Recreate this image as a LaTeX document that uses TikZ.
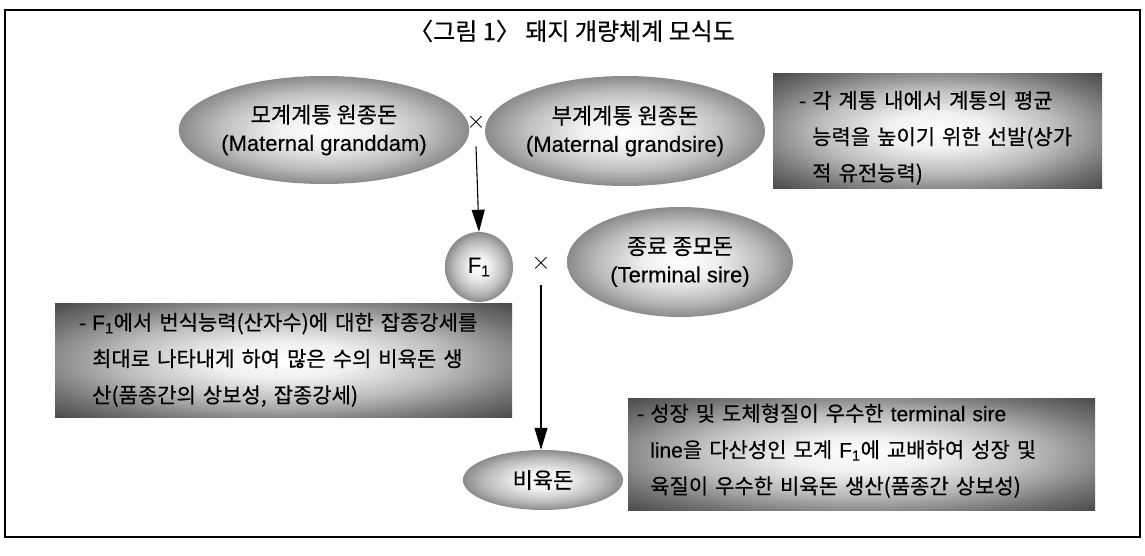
\documentclass[tikz,border=0pt]{standalone}
\usepackage{fontspec}
\setmainfont{Noto Sans CJK KR}[FakeBold=0.4]
\newfontfamily\latfont{Liberation Sans}[FakeBold=0.3]
\usetikzlibrary{shapes.geometric,arrows.meta}
\pgfdeclareradialshading{glow}{\pgfpointorigin}{color(0bp)=(black!0); color(8bp)=(black!6); color(18bp)=(black!26); color(28bp)=(black!54); color(35bp)=(black!70); color(50bp)=(black!76)}
\newcommand{\jl}[2]{\makebox[#1][s]{#2}}
\newcommand{\la}[1]{{\latfont #1}}
\newcommand{\fr}{\rule{0pt}{18pt}}
\newcommand{\hy}{\llap{-\hspace{6pt}}}
\begin{document}
\begin{tikzpicture}[x=1pt,y=-1pt,
  oval/.style={ellipse, shading=glow, inner sep=0pt, align=center, font=\fontsize{22}{28}\selectfont},
  panel/.style={rectangle, shading=glow, anchor=north west, inner sep=0pt},
  ptext/.style={anchor=north west, inner sep=0pt, align=left, font=\fontsize{21}{36.3}\selectfont},
  cross/.style={inner sep=0pt, font=\fontsize{38}{38}\selectfont},
  link/.style={-{Triangle[length=22pt,width=13pt]}, line width=1.1pt}]
\useasboundingbox (0,0) rectangle (1145,556);
\draw[line width=1.3pt] (5,10) rectangle (1140,537);
\node[font=\fontsize{24}{28}\selectfont] (title) at (572,31) {〈그림 1〉 돼지 개량체계 모식도};
% top row
\node[oval, minimum width=255pt, minimum height=108pt] (gd) at (324,130) {모계계통 원종돈\\\la{(Maternal granddam)}};
\node[cross] (x1) at (476,122) {$\times$};
\node[oval, minimum width=244pt, minimum height=110pt] (gs) at (625,131) {부계계통 원종돈\\\la{(Maternal grandsire)}};
\node[panel, minimum width=329pt, minimum height=115pt] (p1) at (773,73) {};
\node[ptext, text width=278pt] (p1t) at (812,90) {\fr\hy\jl{276pt}{각 계통 내에서 계통의 평균}\\\jl{276pt}{능력을 높이기 위한 선발(상가}\\적 유전능력)};
% middle row
\node[oval, minimum width=68pt, minimum height=70pt] (f1) at (479,267) {\la{F\textsubscript{1}}};
\node[cross] (x2) at (541,263) {$\times$};
\node[oval, minimum width=226pt, minimum height=110pt] (ts) at (680,262) {종료 종모돈\\\la{(Terminal sire)}};
\node[panel, minimum width=457pt, minimum height=114pt] (p2) at (55,303) {};
\node[ptext, text width=416pt] (p2t) at (92,312) {\fr\hy\jl{416pt}{\la{F\textsubscript{1}}에서 번식능력(산자수)에 대한 잡종강세를}\\\jl{416pt}{최대로 나타내게 하여 많은 수의 비육돈 생}\\산(품종간의 상보성, 잡종강세)};
% bottom row
\node[oval, minimum width=160pt, minimum height=60pt] (fp) at (543,480) {비육돈};
\node[panel, minimum width=467pt, minimum height=112pt] (p3) at (628,398) {};
\node[ptext, text width=433pt] (p3t) at (650,403) {\fr\hy\jl{433pt}{성장 및 도체형질이 우수한 \la{terminal sire}}\\\jl{433pt}{\la{line}을 다산성인 모계 \la{F\textsubscript{1}}에 교배하여 성장 및}\\\jl{433pt}{육질이 우수한 비육돈 생산(품종간 상보성)}};
% connectors
\draw[link] ([yshift=-16pt]x1.south) -- (f1.north);
\draw[link] ([yshift=-14pt]x2.south) -- (fp.north -| x2.south);
\end{tikzpicture}
\end{document}
